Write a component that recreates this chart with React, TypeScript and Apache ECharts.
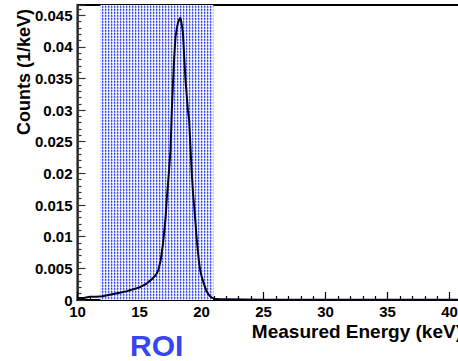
import React, { useEffect, useRef } from "react";
import * as echarts from "echarts";

// Measured energy (keV) and counts (1/keV)
const energies = [
  10.0, 10.5, 11.0, 11.5, 12.0, 12.5, 13.0, 13.5, 14.0, 14.5, 15.0, 15.5, 16.0,
  16.3, 16.5, 16.7, 16.9, 17.0, 17.1, 17.2, 17.3, 17.4, 17.5, 17.6, 17.7, 17.8,
  17.9, 18.0, 18.1, 18.2, 18.3, 18.4, 18.5, 18.6, 18.7, 18.8, 18.9, 19.0, 19.1,
  19.2, 19.3, 19.4, 19.5, 19.6, 19.7, 19.8, 19.9, 20.0, 20.2, 20.4, 20.6, 20.8,
  21.0, 21.5, 22.0, 25.0, 30.0, 35.0, 41.0,
];
const counts = [
  0.0003, 0.0003, 0.0005, 0.0005, 0.0006, 0.0008, 0.001, 0.0012, 0.0014, 0.0017,
  0.002, 0.0025, 0.0033, 0.0039, 0.0046, 0.0062, 0.009, 0.011, 0.013, 0.016,
  0.0184, 0.021, 0.0237, 0.0297, 0.0343, 0.0384, 0.0415, 0.0428, 0.0438, 0.0443,
  0.0446, 0.0436, 0.0422, 0.0385, 0.035, 0.0325, 0.03, 0.0284, 0.0245, 0.0205,
  0.0173, 0.015, 0.0125, 0.0099, 0.0078, 0.006, 0.0046, 0.0038, 0.0025, 0.0014,
  0.0008, 0.0004, 0.0002, 0.0001, 0.0001, 0.00005, 0.00003, 0.00002, 0.00002,
];
// Region of interest (keV)
const roiRange = [11.85, 20.95];
const xRange = [10, 41];
const yRange = [0, 0.0466];
const xTickStep = 5;
const yTickStep = 0.005;
const xTitle = "Measured Energy (keV)";
const yTitle = "Counts (1/keV)";
const roiLabel = "ROI";

export default function App() {
  const ref = useRef<HTMLDivElement>(null);
  useEffect(() => {
    document.body.style.margin = "0";
    const chart = echarts.init(ref.current!, null, { renderer: "svg" });

    const tile = document.createElement("canvas");
    tile.width = 3;
    tile.height = 3;
    const ctx = tile.getContext("2d")!;
    ctx.fillStyle = "#ffffff";
    ctx.fillRect(0, 0, 3, 3);
    ctx.fillStyle = "#2e3ef0";
    ctx.fillRect(0, 0, 1, 1);
    ctx.fillStyle = "#5f6ef3";
    ctx.fillRect(0, 1, 1, 1);
    ctx.fillStyle = "#aab3f9";
    ctx.fillRect(0, 2, 1, 1);
    ctx.fillStyle = "#b8c0fa";
    ctx.fillRect(1, 0, 1, 2);
    ctx.fillStyle = "#e4e7fd";
    ctx.fillRect(2, 0, 1, 2);

    const font = "'Liberation Sans', Arial, Helvetica, sans-serif";

    chart.setOption({
      animation: false,
      backgroundColor: "#ffffff",
      grid: {
        left: 77.5,
        right: -4,
        top: 5,
        bottom: 61,
        outerBoundsMode: "none",
        containLabel: false,
        show: true,
        borderColor: "#000",
        borderWidth: 2,
        backgroundColor: "transparent",
      },
      xAxis: {
        type: "value",
        min: xRange[0],
        max: xRange[1],
        interval: xTickStep,
        name: xTitle,
        nameLocation: "end",
        nameGap: 0,
        nameTextStyle: {
          fontFamily: font,
          fontWeight: "bold",
          fontSize: 19,
          color: "#000",
          align: "right",
          verticalAlign: "top",
          padding: [22, 0, 0, 0],
        },
        axisLine: { show: true, lineStyle: { color: "#000", width: 2 } },
        axisTick: { show: true, inside: true, length: 8, lineStyle: { color: "#000", width: 1.2 } },
        minorTick: { show: true, splitNumber: 5, length: 4, lineStyle: { color: "#000", width: 1.2 } },
        splitLine: { show: false },
        axisLabel: {
          showMaxLabel: false,
          margin: 4,
          fontFamily: font,
          fontWeight: "bold",
          fontSize: 15,
          color: "#000",
        },
      },
      yAxis: {
        type: "value",
        min: yRange[0],
        max: yRange[1],
        interval: yTickStep,
        axisLine: { show: true, lineStyle: { color: "#333", width: 1.5 } },
        axisTick: { show: true, inside: true, length: 8, lineStyle: { color: "#333", width: 1.2 } },
        minorTick: { show: true, splitNumber: 5, length: 4, lineStyle: { color: "#333", width: 1.2 } },
        splitLine: { show: false },
        axisLabel: {
          showMaxLabel: false,
          margin: 5,
          fontFamily: font,
          fontWeight: "bold",
          fontSize: 15,
          color: "#000",
          formatter: (v: number) => String(+v.toFixed(4)),
        },
      },
      series: [
        {
          type: "line",
          data: energies.map((e, i) => [e, counts[i]]),
          showSymbol: false,
          symbol: "none",
          z: 5,
          lineStyle: { color: "#050520", width: 2 },
          markArea: {
            silent: true,
            itemStyle: {
              color: { image: tile, repeat: "repeat" } as any,
            },
            data: [[{ xAxis: roiRange[0] }, { xAxis: roiRange[1] }]],
          },
        },
      ],
      graphic: [
        {
          type: "text",
          x: 24,
          y: 72,
          rotation: Math.PI / 2,
          style: {
            text: yTitle,
            fontFamily: font,
            fontWeight: "bold",
            fontSize: 18,
            fill: "#000",
            align: "center",
            verticalAlign: "middle",
          },
        },
        {
          type: "text",
          left: 130,
          top: 330,
          style: {
            text: roiLabel,
            fontFamily: font,
            fontWeight: "bold",
            fontSize: 30,
            fill: "#3646f0",
          },
        },
      ],
    });

    return () => chart.dispose();
  }, []);
  return <div ref={ref} style={{ width: 458, height: 361 }} />;
}
